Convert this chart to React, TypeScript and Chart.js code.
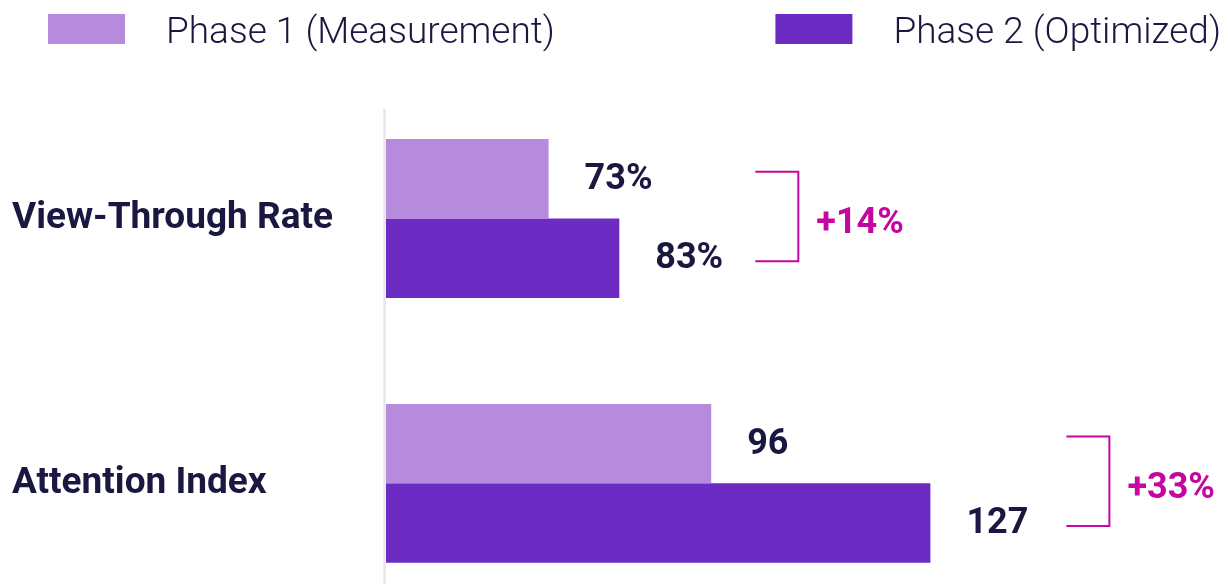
import React, { useEffect, useRef } from 'react';
import { Chart, registerables } from 'chart.js';

Chart.register(...registerables);

// ---- data ----
const categories = ['View-Through Rate', 'Attention Index'];
const seriesNames = ['Phase 1 (Measurement)', 'Phase 2 (Optimized)'];
const phase1Values = [73, 96];
const phase2Values = [83, 127];
const valueSuffixes = ['%', ''];
const upliftLabels = ['+14%', '+33%'];
const axisMin = 50;
const axisMax = 150;

// ---- styles ----
const COLORS = {
  p1: '#b68bde',
  p2: '#6c2bc3',
  ink: '#1a1840',
  accent: '#c5069f',
  axis: '#e6e6e6',
};
const FONT = 'Roboto, "Noto Sans", "DejaVu Sans", sans-serif';

const annotatePlugin = {
  id: 'annotate',
  beforeDatasetsDraw(chart: any) {
    const { ctx, chartArea } = chart;
    ctx.save();
    ctx.strokeStyle = COLORS.axis;
    ctx.lineWidth = 2.5;
    ctx.beginPath();
    ctx.moveTo(chartArea.left - 1.5, chartArea.top + 23);
    ctx.lineTo(chartArea.left - 1.5, chart.height);
    ctx.stroke();
    ctx.restore();
  },
  afterDatasetsDraw(chart: any) {
    const { ctx } = chart;
    const m0 = chart.getDatasetMeta(0);
    const m1 = chart.getDatasetMeta(1);
    ctx.save();
    // value labels
    ctx.fillStyle = COLORS.ink;
    ctx.font = `bold 36px ${FONT}`;
    ctx.textAlign = 'left';
    ctx.textBaseline = 'alphabetic';
    chart.data.datasets.forEach((ds: any, d: number) => {
      const meta = chart.getDatasetMeta(d);
      meta.data.forEach((el: any, i: number) => {
        const text = `${ds.data[i]}${valueSuffixes[i]}`;
        ctx.fillText(text, el.x + 36, el.y + 10);
      });
    });
    // uplift brackets
    categories.forEach((_, i) => {
      const b1 = m0.data[i];
      const b2 = m1.data[i];
      const left = Math.max(b1.x, b2.x) + 136;
      const right = left + 43;
      const top = b1.y - 7;
      const bottom = b2.y + 3;
      ctx.strokeStyle = COLORS.accent;
      ctx.lineWidth = 2;
      ctx.beginPath();
      ctx.moveTo(left, top);
      ctx.lineTo(right, top);
      ctx.lineTo(right, bottom);
      ctx.lineTo(left, bottom);
      ctx.stroke();
      ctx.fillStyle = COLORS.accent;
      ctx.font = `bold 36px ${FONT}`;
      ctx.fillText(upliftLabels[i], right + 18, (top + bottom) / 2 + 17);
    });
    ctx.restore();
  },
  afterDraw(chart: any) {
    // legend
    const { ctx } = chart;
    ctx.save();
    ctx.font = `300 37px ${FONT}`;
    ctx.textBaseline = 'alphabetic';
    ctx.textAlign = 'left';
    const datasets = chart.data.datasets;
    datasets.forEach((ds: any, d: number) => {
      const tw = ctx.measureText(ds.label).width;
      let boxX: number;
      if (d === 0) {
        boxX = 48;
      } else {
        boxX = chart.width - 7 - tw - 41 - 77;
      }
      ctx.fillStyle = ds.backgroundColor;
      ctx.fillRect(boxX, 14, 77, 30);
      ctx.fillStyle = COLORS.ink;
      ctx.fillText(ds.label, boxX + 77 + 41, 43);
    });
    ctx.restore();
  },
};

export default function App() {
  const canvasRef = useRef<HTMLCanvasElement | null>(null);

  useEffect(() => {
    if (!canvasRef.current) return;
    const chart = new Chart(canvasRef.current, {
      type: 'bar',
      data: {
        labels: categories,
        datasets: [
          {
            label: seriesNames[0],
            data: phase1Values,
            backgroundColor: COLORS.p1,
            borderWidth: 0,
            base: axisMin,
            categoryPercentage: 0.6,
            barPercentage: 1.0,
          },
          {
            label: seriesNames[1],
            data: phase2Values,
            backgroundColor: COLORS.p2,
            borderWidth: 0,
            base: axisMin,
            categoryPercentage: 0.6,
            barPercentage: 1.0,
          },
        ],
      },
      options: {
        indexAxis: 'y',
        responsive: true,
        maintainAspectRatio: false,
        animation: false,
        layout: { padding: { top: 86, left: 12, right: 135, bottom: 6 } },
        plugins: {
          legend: { display: false },
          tooltip: { enabled: false },
        },
        scales: {
          x: { display: false, min: axisMin, max: axisMax },
          y: {
            grid: { display: false },
            border: { display: false },
            ticks: {
              crossAlign: 'far',
              padding: 0,
              color: COLORS.ink,
              font: { family: FONT, size: 37, weight: 'bold' },
            },
            afterFit: (scale: any) => {
              scale.width = 374;
            },
          },
        },
      },
      plugins: [annotatePlugin],
    } as any);
    return () => chart.destroy();
  }, []);

  return (
    <div style={{ position: 'absolute', left: 0, top: 0, width: 1228, height: 584, overflow: 'hidden', background: '#fff' }}>
      <div style={{ position: 'relative', width: 1228, height: 638 }}>
        <canvas ref={canvasRef} />
      </div>
    </div>
  );
}
